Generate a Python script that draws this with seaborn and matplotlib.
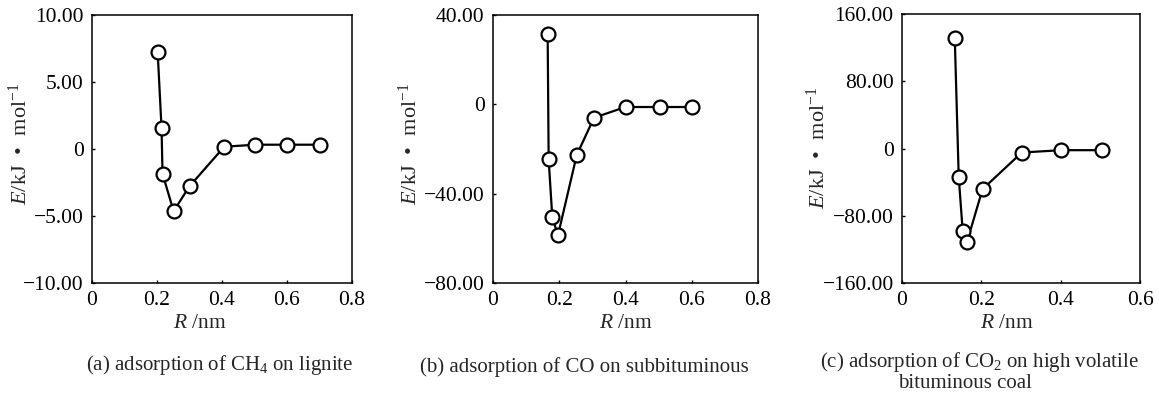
import matplotlib
matplotlib.use("Agg")
import matplotlib.pyplot as plt
import seaborn as sns
import pandas as pd

# ---- data ----
r_a = [0.202, 0.214, 0.217, 0.251, 0.300, 0.407, 0.502, 0.600, 0.700]
e_a = [7.25, 1.54, -1.84, -4.64, -2.78, 0.17, 0.32, 0.32, 0.32]

r_b = [0.165, 0.168, 0.179, 0.196, 0.253, 0.305, 0.400, 0.505, 0.600]
e_b = [31.4, -24.7, -50.5, -58.7, -22.6, -6.0, -1.2, -1.2, -1.2]

r_c = [0.133, 0.143, 0.153, 0.164, 0.203, 0.302, 0.401, 0.503]
e_c = [132.0, -33.7, -98.0, -111.0, -48.4, -4.8, -2.0, -2.0]

yticks_a = [-10, -5, 0, 5, 10]
yticks_b = [-80, -40, 0, 40]
yticks_c = [-160, -80, 0, 80, 160]
xticks_ab = [0, 0.2, 0.4, 0.6, 0.8]
xticks_c = [0, 0.2, 0.4, 0.6]

captions = ["(a) adsorption of CH$_4$ on lignite",
            "(b) adsorption of CO on subbituminous",
            "(c) adsorption of CO$_2$ on high volatile",
            "bituminous coal"]

sns.set_style("ticks")
plt.rcParams['font.family'] = ['Liberation Serif', 'DejaVu Serif']
plt.rcParams['mathtext.fontset'] = 'custom'
plt.rcParams['mathtext.rm'] = 'Liberation Serif'
plt.rcParams['mathtext.it'] = 'Liberation Serif:italic'
plt.rcParams['mathtext.bf'] = 'Liberation Serif:bold'

W, H = 1159, 395
fig = plt.figure(figsize=(W / 100, H / 100), dpi=100)

boxes = [(92, 15, 352, 283), (493, 15, 758, 283), (902, 14, 1140, 283)]
datasets = [(r_a, e_a, yticks_a, xticks_ab, (0, 0.8), (-10, 10)),
            (r_b, e_b, yticks_b, xticks_ab, (0, 0.8), (-80, 40)),
            (r_c, e_c, yticks_c, xticks_c, (0, 0.6), (-160, 160))]
ylab_pos = [(20, 144), (410, 144), (818, 148)]
xlab_pos = [(200, 323), (626, 323), (1007, 323)]

def yfmt(v):
    if v == 0:
        return "0"
    return f"{v:.2f}".replace("-", "\u2212")

def xfmt(v):
    if v == 0:
        return "0"
    return f"{v:.1f}"

for (l, t, r, b), (xs, ys, yt, xt, xl, yl), yp, xp in zip(boxes, datasets, ylab_pos, xlab_pos):
    ax = fig.add_axes([l / W, 1 - b / H, (r - l) / W, (b - t) / H])
    df = pd.DataFrame({"R": xs, "E": ys})
    sns.lineplot(data=df, x="R", y="E", ax=ax, color="black", lw=1.6, sort=False)
    sns.scatterplot(data=df, x="R", y="E", ax=ax, s=100, facecolor="white",
                    edgecolor="black", linewidth=1.6, zorder=3)
    ax.set_xlim(*xl)
    ax.set_ylim(*yl)
    ax.set_xticks(xt)
    ax.set_xticklabels([xfmt(v) for v in xt])
    ax.set_yticks(yt)
    ax.set_yticklabels([yfmt(v) for v in yt])
    ax.tick_params(direction="in", length=2.5, width=1, labelsize=15.5, pad=6, colors="black")
    for s in ax.spines.values():
        s.set_linewidth(1.1)
        s.set_color("black")
    ax.set_xlabel("$R$ /nm", fontsize=15.5, va="center", ha="center")
    ax.set_ylabel("$E$/kJ\u2002\u2022\u2002mol$^{\u22121}$", fontsize=16, va="center", ha="center")
    ax.xaxis.set_label_coords((xp[0] - l) / (r - l), (b - xp[1]) / (b - t))
    ax.yaxis.set_label_coords((yp[0] - l) / (r - l), (b - yp[1]) / (b - t))

fig.text(220 / W, 1 - 365 / H, captions[0], ha="center", va="center", fontsize=15)
fig.text(584 / W, 1 - 367 / H, captions[1], ha="center", va="center", fontsize=15)
fig.text(979 / W, 1 - 362 / H, captions[2], ha="center", va="center", fontsize=15)
fig.text(965 / W, 1 - 383 / H, captions[3], ha="center", va="center", fontsize=15)

fig.savefig("out.png", dpi=100, facecolor="white")
